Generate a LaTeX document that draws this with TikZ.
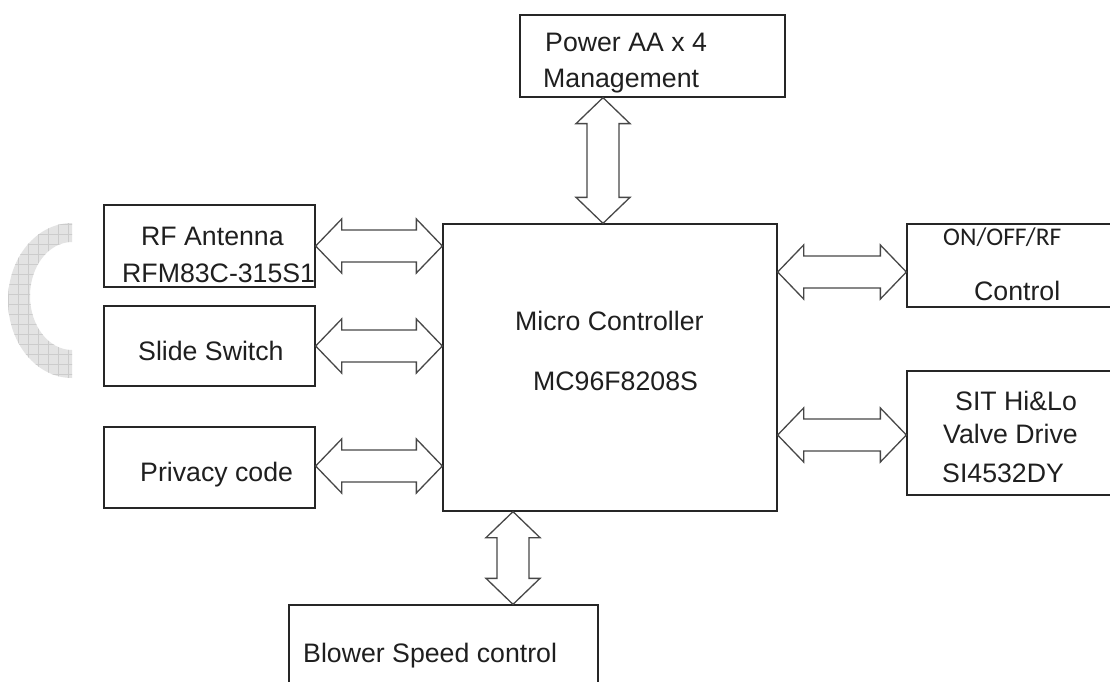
\documentclass[tikz,border=0pt]{standalone}
\usepackage{fontspec}
\setmainfont{Liberation Sans}
\newfontfamily\calib{Carlito}
\usetikzlibrary{calc}
\tikzset{
  box/.style={draw=black!85, line width=1.3pt, inner sep=0pt},
  txt/.style={anchor=base west, inner sep=0pt, font=\fontsize{26.7}{30}\selectfont, text=black!88},
  arr/.style={draw=black!72, line width=1.3pt, line join=miter},
  hdbl/.style={arr, to path={let \p1=(\tikztostart), \p2=(\tikztotarget) in
    (\x1,\y1) -- (\x1+26pt,\y1+27pt) -- (\x1+26pt,\y1+16pt) -- (\x2-26pt,\y1+16pt)
    -- (\x2-26pt,\y1+27pt) -- (\x2,\y1) -- (\x2-26pt,\y1-27pt) -- (\x2-26pt,\y1-16pt)
    -- (\x1+26pt,\y1-16pt) -- (\x1+26pt,\y1-27pt) -- cycle}},
  vdbl/.style={arr, to path={let \p1=(\tikztostart), \p2=(\tikztotarget) in
    (\x1,\y1) -- (\x1+27pt,\y1-26pt) -- (\x1+16pt,\y1-26pt) -- (\x1+16pt,\y2+26pt)
    -- (\x1+27pt,\y2+26pt) -- (\x1,\y2) -- (\x1-27pt,\y2+26pt) -- (\x1-16pt,\y2+26pt)
    -- (\x1-16pt,\y1-26pt) -- (\x1-27pt,\y1-26pt) -- cycle}}
}
\begin{document}
\begin{tikzpicture}[x=1pt,y=-1pt]
\useasboundingbox (0,0) rectangle (1110,682);
\clip (0,0) rectangle (1110,682);
\fill[white] (0,0) rectangle (1110,682);

% decorative grey arc
\begin{scope}
  \path[clip] (72,223) arc[start angle=270, end angle=90, x radius=64, y radius=77.5]
     -- (72,350) arc[start angle=90, end angle=270, x radius=42, y radius=54] -- cycle;
  \fill[black!11] (0,200) rectangle (80,400);
  \foreach \k in {-2,...,8} {\draw[black!20, line width=0.8pt] (8+10*\k,200) -- (8+10*\k,400);}
  \foreach \k in {0,...,19} {\draw[black!20, line width=0.8pt] (0,204+10*\k) -- (80,204+10*\k);}
\end{scope}

% boxes
\node[box, minimum width=265pt, minimum height=82pt] (pw) at (652.5,56) {};
\node[box, minimum width=334pt, minimum height=287pt] (mc) at (610,367.5) {};
\node[box, minimum width=211pt, minimum height=82pt] (rf) at (209.5,246) {};
\node[box, minimum width=211pt, minimum height=80pt] (sl) at (209.5,346) {};
\node[box, minimum width=211pt, minimum height=81pt] (pc) at (209.5,467.5) {};
\node[box, minimum width=208pt, minimum height=83pt] (on) at (1011,265.5) {};
\node[box, minimum width=208pt, minimum height=124pt] (sit) at (1011,433) {};
\node[box, minimum width=309pt, minimum height=115pt] (bl) at (443.5,662.5) {};

% texts
\node[txt] (t1) at (545,52) {Power AA x 4};
\node[txt] (t2) at (543,88) {Management};
\node[txt] (t3) at (141,245) {RF Antenna};
\node[txt] (t4) at (122,282) {RFM83C-315S1};
\node[txt] (t5) at (138,360) {Slide Switch};
\node[txt] (t6) at (140,481) {Privacy code};
\node[txt] (t7) at (515,330) {Micro Controller};
\node[txt] (t8) at (533,390) {MC96F8208S};
\node[txt, font=\calib\fontsize{25.5}{30}\selectfont] (t9) at (943,245) {ON/OFF/RF};
\node[txt] (t10) at (974,300) {Control};
\node[txt] (t11) at (955,410) {SIT Hi\&Lo};
\node[txt] (t12) at (943,443) {Valve Drive};
\node[txt] (t13) at (942,482) {SI4532DY};
\node[txt] (t14) at (303,662) {Blower Speed control};

% connectors (double block arrows)
\draw[vdbl] ($(pw.south -| mc.north)+(-7,0)$) to ($(mc.north)+(-7,0)$);
\draw[hdbl] (rf.east) to (rf.east -| mc.west);
\draw[hdbl] (sl.east) to (sl.east -| mc.west);
\draw[hdbl] ($(pc.east)+(0,-1.5)$) to ($(pc.east -| mc.west)+(0,-1.5)$);
\draw[hdbl] ($(mc.east |- on.west)+(0,6.5)$) to ($(on.west)+(0,6.5)$);
\draw[hdbl] ($(mc.east |- sit.west)+(0,2)$) to ($(sit.west)+(0,2)$);
\draw[vdbl] ($(mc.south)+(-97,0)$) to ($(bl.north -| mc.south)+(-97,0)$);
\end{tikzpicture}
\end{document}
